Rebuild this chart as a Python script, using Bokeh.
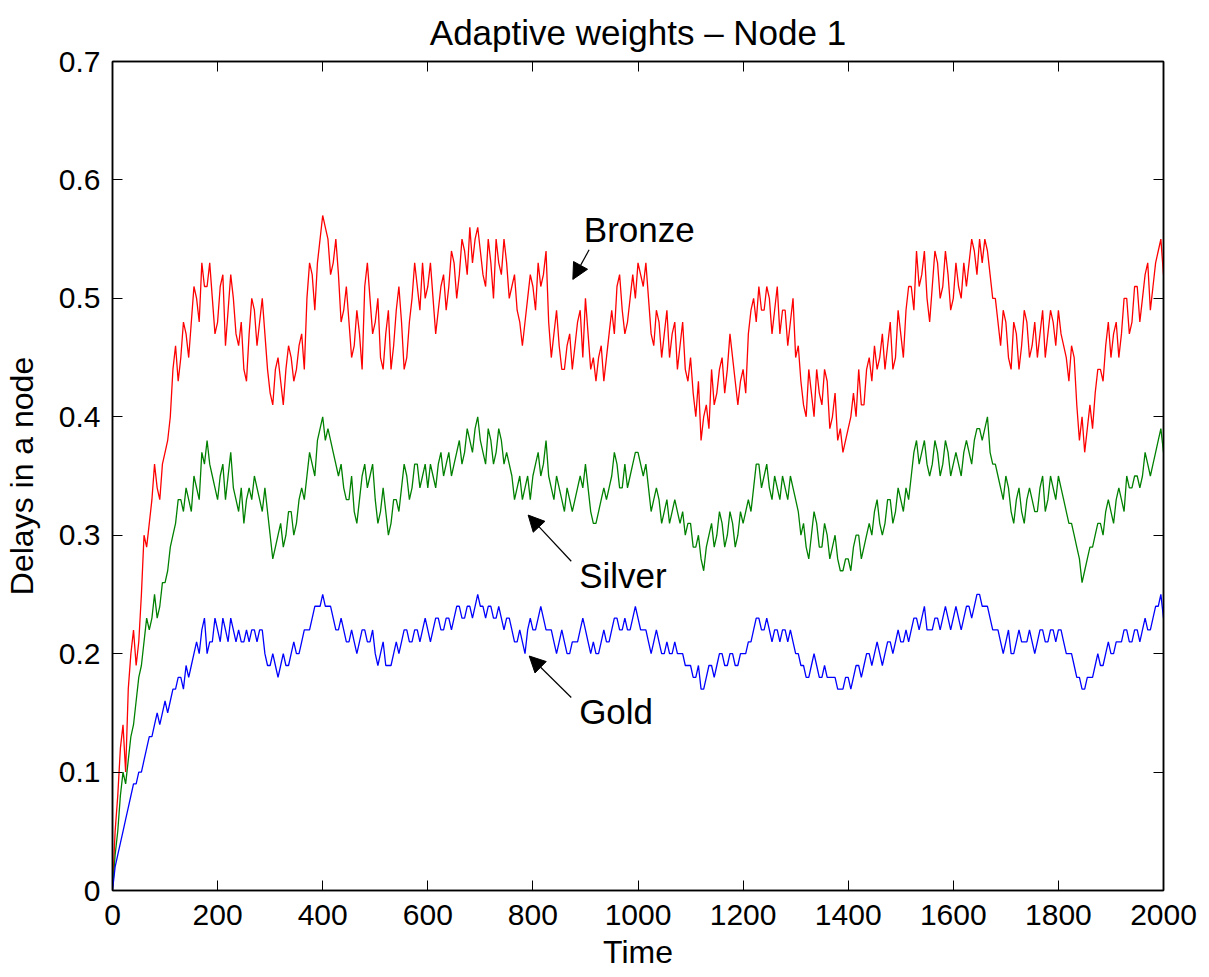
from bokeh.plotting import figure
from bokeh.models import Range1d, LinearAxis, FixedTicker, Arrow, NormalHead
from bokeh.core.properties import value
from bokeh.embed import file_html
from bokeh.resources import INLINE

# samples every 10 time units (t = 0, 10, ..., 2000)
time = list(range(0, 2001, 10))
# samples in between (t = 5, 15, ..., 1995)
time_mid = list(range(5, 2000, 10))

bronze = [0.0, 0.08, 0.14, 0.17, 0.22, 0.21, 0.30, 0.31, 0.36, 0.33,
          0.37, 0.40, 0.46, 0.45, 0.47, 0.48, 0.50, 0.53, 0.51, 0.50,
          0.48, 0.52, 0.49, 0.50, 0.46, 0.44, 0.47, 0.49, 0.48, 0.47,
          0.42, 0.44, 0.43, 0.44, 0.45, 0.44, 0.47, 0.50, 0.52, 0.53,
          0.57, 0.55, 0.53, 0.52, 0.49, 0.48, 0.46, 0.47, 0.51, 0.50,
          0.48, 0.45, 0.47, 0.44, 0.49, 0.48, 0.45, 0.50, 0.51, 0.53,
          0.51, 0.50, 0.49, 0.52, 0.51, 0.53, 0.52, 0.54, 0.56, 0.55,
          0.54, 0.51, 0.53, 0.55, 0.52, 0.53, 0.51, 0.49, 0.46, 0.50,
          0.51, 0.53, 0.52, 0.48, 0.47, 0.46, 0.44, 0.47, 0.46, 0.49,
          0.50, 0.44, 0.43, 0.46, 0.45, 0.49, 0.51, 0.49, 0.48, 0.52,
          0.53, 0.51, 0.50, 0.46, 0.48, 0.47, 0.45, 0.48, 0.46, 0.44,
          0.45, 0.40, 0.38, 0.41, 0.44, 0.42, 0.45, 0.44, 0.45, 0.41,
          0.44, 0.47, 0.50, 0.51, 0.49, 0.50, 0.49, 0.47, 0.49, 0.48,
          0.45, 0.43, 0.40, 0.42, 0.44, 0.41, 0.43, 0.40, 0.38, 0.37,
          0.39, 0.42, 0.44, 0.41, 0.45, 0.46, 0.45, 0.44, 0.48, 0.45,
          0.47, 0.49, 0.51, 0.54, 0.52, 0.50, 0.51, 0.53, 0.51, 0.52,
          0.50, 0.51, 0.53, 0.53, 0.54, 0.55, 0.55, 0.52, 0.50, 0.46,
          0.48, 0.44, 0.47, 0.46, 0.48, 0.46, 0.45, 0.49, 0.47, 0.48,
          0.49, 0.46, 0.43, 0.45, 0.38, 0.37, 0.41, 0.42, 0.44, 0.46,
          0.45, 0.48, 0.47, 0.50, 0.48, 0.51, 0.50, 0.53, 0.51, 0.54,
          0.52]

bronze_mid = [0.05, 0.12, 0.10, 0.20, 0.19, 0.25, 0.29, 0.33, 0.34, 0.36,
              0.38, 0.44, 0.43, 0.48, 0.45, 0.51, 0.48, 0.51, 0.53, 0.47,
              0.51, 0.46, 0.52, 0.47, 0.48, 0.43, 0.50, 0.46, 0.50, 0.44,
              0.41, 0.45, 0.41, 0.46, 0.43, 0.46, 0.44, 0.53, 0.49, 0.55,
              0.56, 0.52, 0.55, 0.48, 0.51, 0.45, 0.49, 0.44, 0.53, 0.47,
              0.50, 0.44, 0.49, 0.46, 0.51, 0.44, 0.48, 0.53, 0.49, 0.50,
              0.53, 0.47, 0.51, 0.49, 0.54, 0.50, 0.55, 0.52, 0.53, 0.56,
              0.52, 0.55, 0.50, 0.53, 0.55, 0.50, 0.52, 0.48, 0.48, 0.52,
              0.49, 0.51, 0.54, 0.45, 0.49, 0.44, 0.46, 0.44, 0.48, 0.45,
              0.47, 0.45, 0.45, 0.43, 0.47, 0.47, 0.52, 0.47, 0.50, 0.50,
              0.52, 0.53, 0.47, 0.49, 0.45, 0.49, 0.47, 0.44, 0.48, 0.43,
              0.42, 0.43, 0.40, 0.39, 0.41, 0.44, 0.42, 0.47, 0.43, 0.43,
              0.42, 0.49, 0.48, 0.49, 0.51, 0.47, 0.51, 0.49, 0.46, 0.50,
              0.46, 0.41, 0.44, 0.40, 0.42, 0.44, 0.39, 0.42, 0.39, 0.38,
              0.40, 0.40, 0.41, 0.44, 0.43, 0.44, 0.47, 0.46, 0.44, 0.49,
              0.45, 0.51, 0.49, 0.51, 0.54, 0.48, 0.54, 0.50, 0.54, 0.49,
              0.53, 0.50, 0.51, 0.55, 0.52, 0.53, 0.54, 0.50, 0.48, 0.49,
              0.45, 0.48, 0.44, 0.49, 0.45, 0.48, 0.47, 0.45, 0.49, 0.46,
              0.47, 0.45, 0.46, 0.41, 0.40, 0.39, 0.39, 0.44, 0.43, 0.48,
              0.47, 0.45, 0.50, 0.47, 0.51, 0.48, 0.52, 0.49, 0.53, 0.55]

silver = [0.0, 0.05, 0.10, 0.11, 0.14, 0.18, 0.21, 0.22, 0.25, 0.24,
          0.26, 0.29, 0.31, 0.33, 0.34, 0.32, 0.34, 0.37, 0.38, 0.35,
          0.33, 0.36, 0.35, 0.34, 0.32, 0.31, 0.34, 0.35, 0.33, 0.34,
          0.30, 0.29, 0.31, 0.30, 0.32, 0.31, 0.34, 0.35, 0.36, 0.38,
          0.40, 0.39, 0.37, 0.35, 0.34, 0.33, 0.32, 0.33, 0.36, 0.35,
          0.33, 0.32, 0.32, 0.31, 0.33, 0.34, 0.35, 0.34, 0.36, 0.35,
          0.34, 0.35, 0.36, 0.35, 0.37, 0.36, 0.38, 0.37, 0.38, 0.39,
          0.38, 0.36, 0.38, 0.37, 0.38, 0.37, 0.35, 0.34, 0.33, 0.35,
          0.35, 0.37, 0.36, 0.35, 0.33, 0.34, 0.32, 0.33, 0.33, 0.35,
          0.36, 0.32, 0.31, 0.33, 0.33, 0.35, 0.36, 0.34, 0.34, 0.36,
          0.37, 0.35, 0.34, 0.33, 0.33, 0.32, 0.31, 0.33, 0.31, 0.30,
          0.31, 0.29, 0.28, 0.29, 0.31, 0.30, 0.31, 0.30, 0.31, 0.30,
          0.31, 0.33, 0.34, 0.36, 0.35, 0.34, 0.35, 0.33, 0.34, 0.35,
          0.33, 0.30, 0.29, 0.30, 0.31, 0.29, 0.30, 0.29, 0.28, 0.27,
          0.28, 0.29, 0.30, 0.29, 0.31, 0.32, 0.31, 0.31, 0.33, 0.32,
          0.33, 0.34, 0.35, 0.38, 0.37, 0.36, 0.36, 0.37, 0.36, 0.37,
          0.36, 0.36, 0.37, 0.37, 0.38, 0.39, 0.39, 0.37, 0.36, 0.34,
          0.35, 0.32, 0.33, 0.32, 0.33, 0.33, 0.32, 0.35, 0.33, 0.34,
          0.35, 0.33, 0.31, 0.30, 0.28, 0.27, 0.29, 0.30, 0.31, 0.32,
          0.32, 0.33, 0.33, 0.35, 0.34, 0.35, 0.35, 0.36, 0.36, 0.38,
          0.37]

silver_mid = [0.03, 0.08, 0.09, 0.13, 0.16, 0.19, 0.23, 0.23, 0.23, 0.26,
              0.27, 0.30, 0.33, 0.32, 0.33, 0.35, 0.33, 0.36, 0.36, 0.34,
              0.35, 0.33, 0.37, 0.33, 0.34, 0.33, 0.33, 0.34, 0.32, 0.32,
              0.28, 0.30, 0.29, 0.32, 0.30, 0.33, 0.33, 0.37, 0.35, 0.39,
              0.38, 0.38, 0.36, 0.36, 0.33, 0.35, 0.31, 0.35, 0.34, 0.36,
              0.31, 0.34, 0.30, 0.33, 0.32, 0.36, 0.33, 0.36, 0.34, 0.36,
              0.36, 0.34, 0.37, 0.36, 0.35, 0.37, 0.36, 0.39, 0.37, 0.40,
              0.37, 0.39, 0.36, 0.39, 0.36, 0.36, 0.33, 0.35, 0.34, 0.33,
              0.36, 0.35, 0.38, 0.34, 0.35, 0.33, 0.34, 0.32, 0.34, 0.34,
              0.34, 0.31, 0.32, 0.34, 0.34, 0.37, 0.34, 0.36, 0.35, 0.37,
              0.36, 0.36, 0.32, 0.34, 0.31, 0.33, 0.32, 0.32, 0.32, 0.31,
              0.29, 0.30, 0.27, 0.30, 0.29, 0.32, 0.29, 0.32, 0.29, 0.32,
              0.32, 0.32, 0.36, 0.34, 0.36, 0.33, 0.34, 0.35, 0.33, 0.34,
              0.32, 0.31, 0.28, 0.32, 0.29, 0.31, 0.28, 0.30, 0.27, 0.28,
              0.27, 0.30, 0.28, 0.30, 0.30, 0.33, 0.30, 0.33, 0.31, 0.34,
              0.32, 0.33, 0.37, 0.36, 0.38, 0.35, 0.38, 0.35, 0.38, 0.35,
              0.37, 0.35, 0.38, 0.36, 0.39, 0.38, 0.40, 0.36, 0.35, 0.33,
              0.34, 0.31, 0.34, 0.31, 0.34, 0.32, 0.34, 0.32, 0.35, 0.33,
              0.34, 0.32, 0.31, 0.29, 0.26, 0.28, 0.29, 0.31, 0.30, 0.33,
              0.31, 0.34, 0.32, 0.34, 0.35, 0.34, 0.37, 0.35, 0.37, 0.39]

gold = [0.0, 0.03, 0.05, 0.07, 0.09, 0.10, 0.11, 0.13, 0.14, 0.14,
        0.16, 0.16, 0.17, 0.18, 0.19, 0.19, 0.21, 0.22, 0.20, 0.21,
        0.22, 0.23, 0.21, 0.22, 0.22, 0.21, 0.21, 0.22, 0.22, 0.20,
        0.19, 0.19, 0.19, 0.19, 0.20, 0.20, 0.21, 0.22, 0.23, 0.24,
        0.25, 0.24, 0.23, 0.22, 0.22, 0.21, 0.21, 0.21, 0.22, 0.21,
        0.20, 0.20, 0.19, 0.19, 0.21, 0.21, 0.22, 0.21, 0.22, 0.22,
        0.22, 0.22, 0.23, 0.22, 0.23, 0.23, 0.24, 0.23, 0.24, 0.24,
        0.24, 0.23, 0.24, 0.23, 0.23, 0.23, 0.22, 0.21, 0.21, 0.22,
        0.22, 0.23, 0.23, 0.22, 0.21, 0.21, 0.21, 0.20, 0.21, 0.22,
        0.22, 0.20, 0.20, 0.21, 0.21, 0.22, 0.23, 0.22, 0.22, 0.23,
        0.23, 0.22, 0.21, 0.21, 0.21, 0.20, 0.20, 0.21, 0.20, 0.19,
        0.19, 0.18, 0.17, 0.18, 0.19, 0.19, 0.20, 0.19, 0.20, 0.19,
        0.20, 0.21, 0.22, 0.23, 0.22, 0.22, 0.22, 0.21, 0.22, 0.22,
        0.20, 0.19, 0.18, 0.19, 0.19, 0.18, 0.18, 0.18, 0.17, 0.17,
        0.18, 0.18, 0.19, 0.19, 0.20, 0.20, 0.20, 0.20, 0.21, 0.21,
        0.21, 0.22, 0.22, 0.23, 0.23, 0.22, 0.22, 0.23, 0.23, 0.23,
        0.23, 0.23, 0.23, 0.24, 0.24, 0.25, 0.24, 0.23, 0.22, 0.21,
        0.21, 0.20, 0.21, 0.21, 0.21, 0.21, 0.21, 0.22, 0.21, 0.22,
        0.22, 0.21, 0.20, 0.19, 0.18, 0.17, 0.18, 0.19, 0.19, 0.20,
        0.20, 0.21, 0.21, 0.22, 0.21, 0.22, 0.22, 0.22, 0.23, 0.24,
        0.23]

gold_mid = [0.02, 0.04, 0.06, 0.08, 0.09, 0.10, 0.12, 0.13, 0.15, 0.15,
            0.15, 0.17, 0.18, 0.17, 0.18, 0.20, 0.20, 0.23, 0.21, 0.23,
            0.21, 0.22, 0.23, 0.21, 0.21, 0.22, 0.22, 0.21, 0.22, 0.19,
            0.20, 0.18, 0.20, 0.19, 0.21, 0.20, 0.22, 0.22, 0.24, 0.24,
            0.24, 0.24, 0.22, 0.23, 0.21, 0.22, 0.20, 0.22, 0.21, 0.22,
            0.19, 0.21, 0.19, 0.20, 0.20, 0.22, 0.21, 0.22, 0.21, 0.23,
            0.21, 0.23, 0.22, 0.23, 0.22, 0.24, 0.23, 0.24, 0.23, 0.25,
            0.24, 0.24, 0.23, 0.24, 0.22, 0.23, 0.21, 0.22, 0.20, 0.23,
            0.22, 0.24, 0.22, 0.22, 0.20, 0.22, 0.20, 0.21, 0.21, 0.23,
            0.21, 0.21, 0.20, 0.22, 0.21, 0.23, 0.22, 0.23, 0.22, 0.24,
            0.22, 0.22, 0.20, 0.22, 0.20, 0.21, 0.20, 0.20, 0.20, 0.19,
            0.18, 0.19, 0.17, 0.19, 0.18, 0.20, 0.19, 0.20, 0.19, 0.20,
            0.20, 0.21, 0.23, 0.22, 0.23, 0.21, 0.22, 0.22, 0.21, 0.21,
            0.20, 0.19, 0.18, 0.20, 0.18, 0.19, 0.18, 0.18, 0.17, 0.18,
            0.17, 0.19, 0.18, 0.20, 0.19, 0.21, 0.19, 0.21, 0.20, 0.22,
            0.21, 0.21, 0.23, 0.22, 0.24, 0.22, 0.23, 0.22, 0.24, 0.22,
            0.24, 0.22, 0.24, 0.23, 0.25, 0.24, 0.24, 0.22, 0.22, 0.20,
            0.22, 0.20, 0.22, 0.21, 0.22, 0.20, 0.22, 0.21, 0.22, 0.21,
            0.22, 0.20, 0.20, 0.18, 0.17, 0.18, 0.18, 0.20, 0.19, 0.21,
            0.20, 0.21, 0.22, 0.21, 0.22, 0.21, 0.23, 0.22, 0.24, 0.25]

x_ticks = [0, 200, 400, 600, 800, 1000, 1200, 1400, 1600, 1800, 2000]
y_ticks = [0, 0.1, 0.2, 0.3, 0.4, 0.5, 0.6, 0.7]
y_tick_labels = ["0", "0.1", "0.2", "0.3", "0.4", "0.5", "0.6", "0.7"]

title_text = "Adaptive weights \u2013 Node 1"
labels = ["Bronze", "Silver", "Gold"]
label_x = [897, 888, 888]
label_y = [0.558, 0.266, 0.151]
arrow_start_x = [907, 873, 873]
arrow_start_y = [0.541, 0.278, 0.163]
arrow_end_x = [876, 791, 793]
arrow_end_y = [0.516, 0.317, 0.198]


def interleave(t_main, v_main, t_mid, v_mid):
    ts, vs = [], []
    for i in range(len(t_mid)):
        ts += [t_main[i], t_mid[i]]
        vs += [v_main[i], v_mid[i]]
    ts.append(t_main[-1])
    vs.append(v_main[-1])
    return ts, vs


FONT = "Liberation Sans"

p = figure(width=1200, height=975, output_backend="svg", toolbar_location=None,
           x_range=Range1d(0, 2000), y_range=Range1d(0, 0.7),
           min_border_left=111, min_border_right=37, min_border_top=60,
           min_border_bottom=85)

p.title.text = title_text
p.title.align = "center"
p.title.text_font = FONT
p.title.text_font_size = "35px"
p.title.text_font_style = "normal"
p.title.text_color = "black"
p.title.standoff = 20

p.grid.visible = False
p.outline_line_color = "black"
p.outline_line_width = 1.5
p.background_fill_color = "white"
p.border_fill_color = "white"

for v_main, v_mid, col in [(bronze, bronze_mid, "#ff0000"),
                           (silver, silver_mid, "#008000"),
                           (gold, gold_mid, "#0000ff")]:
    ts, vs = interleave(time, v_main, time_mid, v_mid)
    p.line(ts, vs, line_color=col, line_width=1.3)


def style_axis(ax, show_labels=True):
    ax.axis_line_color = "black"
    ax.axis_line_width = 1.5
    ax.major_tick_in = 10
    ax.major_tick_out = 0
    ax.minor_tick_in = 0
    ax.minor_tick_out = 0
    ax.major_tick_line_color = "black"
    ax.major_label_text_font = FONT
    ax.major_label_text_font_size = "30px"
    ax.major_label_text_color = "black"
    ax.axis_label_text_font = FONT
    ax.axis_label_text_font_size = "32px"
    ax.axis_label_text_font_style = "normal"
    ax.axis_label_text_color = "black"
    if not show_labels:
        ax.major_label_text_font_size = "0px"
        ax.major_label_text_alpha = 0
        ax.major_label_standoff = 0


p.xaxis.ticker = FixedTicker(ticks=x_ticks)
p.yaxis.ticker = FixedTicker(ticks=y_ticks)
p.yaxis.major_label_overrides = {t: s for t, s in zip(y_ticks, y_tick_labels)}
p.xaxis.axis_label = "Time"
p.yaxis.axis_label = "Delays in a node"
style_axis(p.xaxis[0])
style_axis(p.yaxis[0])
p.xaxis.major_label_standoff = 14
p.yaxis.major_label_standoff = 12
p.xaxis.axis_label_standoff = 6
p.yaxis.axis_label_standoff = 16

top_ax = LinearAxis(ticker=FixedTicker(ticks=x_ticks))
style_axis(top_ax, show_labels=False)
p.add_layout(top_ax, "above")
right_ax = LinearAxis(ticker=FixedTicker(ticks=y_ticks))
style_axis(right_ax, show_labels=False)
p.add_layout(right_ax, "right")

p.text(x=label_x, y=label_y, text=labels, text_font=value(FONT),
       text_font_size="35px", text_color="black", text_baseline="middle",
       text_align="left")

for sx, sy, ex, ey in zip(arrow_start_x, arrow_start_y, arrow_end_x, arrow_end_y):
    p.add_layout(Arrow(end=NormalHead(size=16, fill_color="black", line_color="black"),
                       x_start=sx, y_start=sy, x_end=ex, y_end=ey,
                       line_color="black", line_width=1.2))

open("out.html", "w").write(file_html(p, INLINE))
